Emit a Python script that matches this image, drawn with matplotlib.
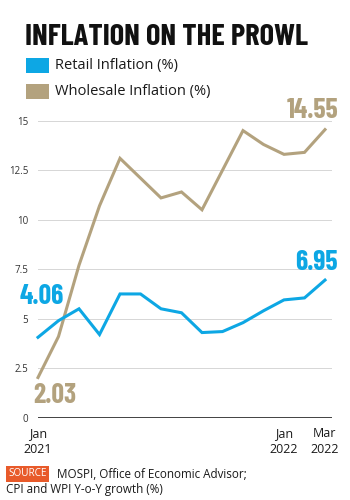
import matplotlib
matplotlib.use("Agg")
import matplotlib.pyplot as plt
from matplotlib.patches import Rectangle

COLORS = {
    "retail": "#0DA7E4",
    "wholesale": "#B3A27E",
    "grid": "#d6d6d6",
    "axis": "#333333",
    "text": "#1a1a1a",
    "source": "#E85A2A",
}

months = ["Jan 2021", "Feb", "Mar", "Apr", "May", "Jun", "Jul", "Aug", "Sep",
          "Oct", "Nov", "Dec", "Jan 2022", "Feb", "Mar 2022"]
retail = [4.06, 4.9, 5.5, 4.2, 6.25, 6.25, 5.5, 5.3, 4.3, 4.35, 4.8, 5.4, 5.95, 6.05, 6.95]
wholesale = [2.03, 4.1, 7.7, 10.7, 13.1, 12.1, 11.1, 11.4, 10.5, 12.5, 14.5, 13.8, 13.3, 13.4, 14.55]
y_ticks = [0, 2.5, 5, 7.5, 10, 12.5, 15]
y_labels = ["0", "2.5", "5", "7.5", "10", "12.5", "15"]
x_tick_pos = [0, 12, 14]
x_tick_labels = ["Jan\n2021", "Jan\n2022", "Mar\n2022"]

NARROW = ["Barlow Condensed", "DejaVu Sans"]
BODY = ["Open Sans", "DejaVu Sans"]

W, H = 350, 500
fig = plt.figure(figsize=(3.5, 5.0), dpi=100)


def fx(px):
    return px / W


def fy(py):
    return 1 - py / H


# axes: x 0 at 38px, 20.5 px per month; y 0 at 417.7px, 19.8 px per unit
ax = fig.add_axes([fx(38), fy(417.7), fx(294), (417.7 - 101) / H])
ax.set_xlim(0, 294 / 20.5)
ax.set_ylim(0, (417.7 - 101) / 19.8)

x = list(range(len(months)))
ax.plot(x, wholesale, color=COLORS["wholesale"], linewidth=2.2, zorder=3,
        solid_joinstyle="miter", clip_on=False)
ax.plot(x, retail, color=COLORS["retail"], linewidth=2.2, zorder=4,
        solid_joinstyle="miter", clip_on=False)

ax.set_yticks(y_ticks, y_labels)
ax.set_xticks(x_tick_pos, x_tick_labels)
ax.tick_params(axis="y", length=0, pad=7, labelsize=7, labelcolor=COLORS["axis"])
ax.tick_params(axis="x", length=0, pad=7, labelsize=9, labelcolor=COLORS["text"])
for lab in ax.get_yticklabels():
    lab.set_fontfamily(BODY)
for lab in ax.get_xticklabels():
    lab.set_fontfamily(BODY)
    lab.set_linespacing(1.3)

for t in y_ticks[1:]:
    ax.axhline(t, color=COLORS["grid"], linewidth=0.7, zorder=1)
ax.axhline(0, color=COLORS["axis"], linewidth=1.3, zorder=2)
for spine in ax.spines.values():
    spine.set_visible(False)

# end-point labels
big = dict(family=NARROW, fontweight="bold", fontsize=20, clip_on=False)
ax.text(14.63, 15.15, f"{wholesale[-1]:.2f}", color=COLORS["wholesale"], ha="right", va="baseline", **big)
ax.text(14.63, 7.45, f"{retail[-1]:.2f}", color=COLORS["retail"], ha="right", va="baseline", **big)
ax.text(-0.88, 5.75, f"{retail[0]:.2f}", color=COLORS["retail"], ha="left", va="baseline", **big)
ax.text(-0.25, 0.72, f"{wholesale[0]:.2f}", color=COLORS["wholesale"], ha="left", va="baseline", **big)

# title
fig.text(fx(25), fy(45), "INFLATION ON THE PROWL", family=NARROW,
         fontweight="bold", fontsize=22, color="#111111", ha="left", va="baseline")

# legend
for top, color, label in [(58, COLORS["retail"], "Retail Inflation (%)"),
                          (84, COLORS["wholesale"], "Wholesale Inflation (%)")]:
    fig.add_artist(Rectangle((fx(26), fy(top + 15)), fx(23), 15 / H,
                             transform=fig.transFigure, color=color, linewidth=0))
    fig.text(fx(55), fy(top + 7.5), label, fontsize=10.5, color=COLORS["text"],
             family=BODY, ha="left", va="center")

# source
fig.text(fx(8), fy(474), "SOURCE", fontsize=7.2, color="white", ha="left", va="center",
         family=BODY,
         bbox={"facecolor": COLORS["source"], "edgecolor": "none", "pad": 1.5})
fig.text(fx(57), fy(474), "MOSPI, Office of Economic Advisor;", fontsize=8.4, color=COLORS["text"],
         family=BODY, ha="left", va="center")
fig.text(fx(6), fy(489), "CPI and WPI Y-o-Y growth (%)", fontsize=8.4, color=COLORS["text"],
         family=BODY, ha="left", va="center")

fig.savefig("out.png", dpi=100)
